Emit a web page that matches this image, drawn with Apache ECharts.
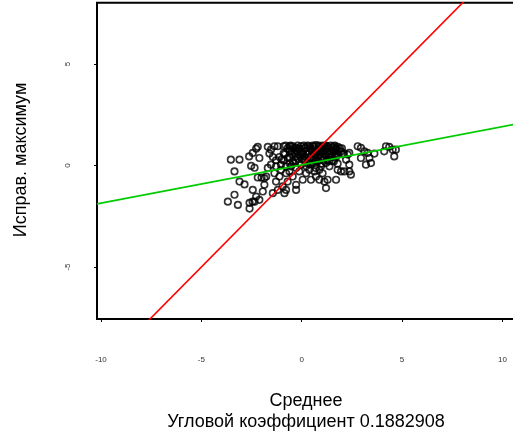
<!DOCTYPE html>
<html>
<head>
<meta charset="utf-8">
<script src="https://cdn.jsdelivr.net/npm/echarts@6/dist/echarts.min.js"></script>
<style>
html,body{margin:0;padding:0;background:#fff;}
#chart{width:513px;height:439px;}
</style>
</head>
<body>
<div id="chart"></div>
<script>
// Scatter data: x = Среднее, y = Исправ. максимум
const xValues = [
-3.53,-3.10,-3.35,-3.10,-2.85,-3.35,-3.68,-3.18,-2.60,-2.60,-2.45,-2.62,-2.44,-2.27,-2.19,-2.11,-2.52,-2.35,-2.19,-2.44,
-2.27,-2.11,-2.35,-1.94,-1.86,-1.77,-2.00,-1.69,-1.61,-1.44,-1.36,-1.19,-1.53,-1.28,-1.11,-1.44,-1.19,-0.86,-0.78,-0.95,
-1.28,-1.11,-0.78,-0.70,-0.28,-0.28,-0.45,0.05,0.22,0.46,0.71,0.88,1.21,1.13,1.29,1.04,1.38,1.71,1.79,1.96,
2.12,2.37,2.45,2.37,2.21,2.29,2.37,1.79,2.79,2.95,3.12,3.28,2.95,3.20,3.45,3.37,3.62,4.11,4.20,4.36,
4.53,4.69,4.61,
-0.61,-0.45,-0.28,-0.03,0.38,0.71,0.88,1.13,1.29,1.54,1.71,1.96,-0.36,-0.12,0.13,0.38,0.63,0.88,1.13,1.46,
-0.70,-0.45,-0.20,0.05,0.30,0.55,0.80,1.04,1.29,1.54,1.79,-1.03,-0.78,-0.53,-0.28,-0.03,0.22,0.46,0.71,0.96,
1.21,1.38,-1.03,-1.36,-0.61,-0.12,0.38,0.63,0.88,-1.53,-1.28,-1.69,-1.86,
-0.90,-0.10,0.50,1.00,1.60,1.80,2.00,0.20,-0.50,0.60,1.40,0.80,-0.90,-1.00,0.00,2.10,1.20,-0.30,0.40,1.60,-0.60,
-0.80,-0.55,-0.20,0.10,0.30,0.55,0.85,1.05,1.20,1.45,1.65,
-0.70,-0.40,-0.15,0.15,0.40,0.65,0.95,1.15,1.35,1.70,1.90,
-0.60,-0.25,0.00,0.25,0.50,0.75,1.00,1.25,1.60,1.85,
-0.85,-0.50,0.05,0.30,0.70,1.10,1.35,1.65,2.05,
-0.60,-0.05,0.45,0.65,0.95,1.45,1.70,
-0.90,-0.30,0.15,0.70,1.10,1.55,
-0.40,0.30,0.60,1.00
];
const yValues = [
0.29,0.29,-0.29,-0.79,-0.93,-1.44,-1.78,-1.94,-2.12,-1.84,-1.78,0.45,0.62,0.83,0.92,0.37,-0.02,-0.11,-0.59,-1.20,
-1.53,-1.69,-1.78,-1.28,-0.95,-0.54,-0.60,0.92,0.59,0.42,0.95,0.95,0.78,0.26,0.42,-1.36,-1.20,-1.36,-1.20,-1.03,
-0.79,-0.54,-0.38,-0.79,-1.20,-0.95,-0.54,-0.70,-0.38,-0.70,-0.54,-0.70,-1.11,-0.79,-0.70,-0.38,-0.04,-0.70,-0.21,-0.29,
-0.29,-0.29,-0.45,0.04,0.29,0.54,0.62,0.09,0.95,0.87,0.70,0.62,0.37,0.04,0.12,0.37,0.59,0.70,0.95,0.92,
0.78,0.78,0.45,
0.95,0.95,0.87,0.95,0.95,1.00,0.92,0.95,0.95,0.87,0.78,0.70,0.62,0.54,0.45,0.62,0.54,0.54,0.70,0.70,
0.37,0.21,0.37,0.29,0.21,0.29,0.21,0.37,0.29,0.45,0.54,0.04,-0.04,-0.04,-0.12,0.04,-0.04,0.04,-0.12,-0.04,
0.12,0.21,-0.21,-0.38,-0.29,-0.29,-0.21,-0.29,-0.21,0.04,-0.04,-0.12,-0.62,
0.95,0.80,0.80,0.85,0.95,0.92,0.85,0.90,0.75,0.95,0.60,0.40,0.60,0.30,0.60,0.60,0.50,0.45,0.10,0.20,0.10,
0.98,0.98,0.98,0.98,0.98,0.98,0.98,0.98,0.98,0.98,0.98,
0.85,0.85,0.85,0.85,0.85,0.85,0.85,0.85,0.85,0.85,0.85,
0.70,0.70,0.70,0.70,0.70,0.70,0.70,0.70,0.70,0.70,
0.55,0.55,0.55,0.55,0.55,0.55,0.55,0.55,0.55,
0.40,0.40,0.40,0.40,0.40,0.40,0.40,
0.25,0.25,0.25,0.25,0.25,0.25,
0.10,0.10,0.10,0.10
];
// Reference line (y = x) and fitted regression line
const slope = 0.1882908;
const intercept = 0.03;
const xTicks = [-10, -5, 0, 5, 10];
const yTicks = [-5, 0, 5];
const xTitle = 'Среднее';
const subTitle = 'Угловой коэффициент 0.1882908';
const yTitle = 'Исправ. максимум';

const xMin = -10.2, xMax = 11.0;
const yMin = -7.56, yMax = 8.02;

const points = xValues.map((x, i) => [x, yValues[i]]);
const idLine = [[xMin, xMin], [xMax, xMax]];
const fitLine = [[xMin, intercept + slope * xMin], [xMax, intercept + slope * xMax]];

const chart = echarts.init(document.getElementById('chart'), null, {renderer: 'canvas'});
const font = '"Liberation Sans", Arial, sans-serif';
chart.setOption({
  animation: false,
  backgroundColor: '#fff',
  grid: {
    left: 97, top: 2.7, width: 425.5, height: 316.3,
    outerBoundsMode: 'none', containLabel: false,
    show: true, borderColor: '#000', borderWidth: 2, backgroundColor: 'transparent'
  },
  xAxis: {
    type: 'value', min: xMin, max: xMax,
    splitLine: {show: false},
    axisLine: {show: false, onZero: false},
    axisTick: {show: true, length: 3, lineStyle: {color: '#000', width: 1}, customValues: xTicks},
    axisLabel: {show: true, customValues: xTicks, fontSize: 8, color: '#333', fontFamily: font, margin: 37,
      formatter: v => String(v)}
  },
  yAxis: {
    type: 'value', min: yMin, max: yMax,
    splitLine: {show: false},
    axisLine: {show: false, onZero: false},
    axisTick: {show: true, length: 3, lineStyle: {color: '#000', width: 1}, customValues: yTicks},
    axisLabel: {show: true, customValues: yTicks, fontSize: 8, color: '#333', fontFamily: font, margin: 25,
      rotate: 90, formatter: v => String(v)}
  },
  graphic: [
    {type: 'text', x: 306, y: 401, style: {text: xTitle, font: '18px ' + font, fill: '#000', textAlign: 'center', textVerticalAlign: 'middle'}},
    {type: 'text', x: 306, y: 422, style: {text: subTitle, font: '18px ' + font, fill: '#000', textAlign: 'center', textVerticalAlign: 'middle'}},
    {type: 'text', x: 21, y: 160, rotation: Math.PI / 2, style: {text: yTitle, font: '18px ' + font, fill: '#000', textAlign: 'center', textVerticalAlign: 'middle'}}
  ],
  series: [
    {
      type: 'scatter', data: points, symbol: 'circle', symbolSize: 6.5,
      itemStyle: {color: 'rgba(0,0,0,0)', borderColor: '#000', borderWidth: 1.7},
      z: 2
    },
    {
      type: 'line', data: idLine, showSymbol: false, symbol: 'none', clip: true,
      lineStyle: {color: '#ff0000', width: 1.6}, z: 3
    },
    {
      type: 'line', data: fitLine, showSymbol: false, symbol: 'none', clip: true,
      lineStyle: {color: '#00cc00', width: 1.6}, z: 3
    }
  ]
});
</script>
</body>
</html>
